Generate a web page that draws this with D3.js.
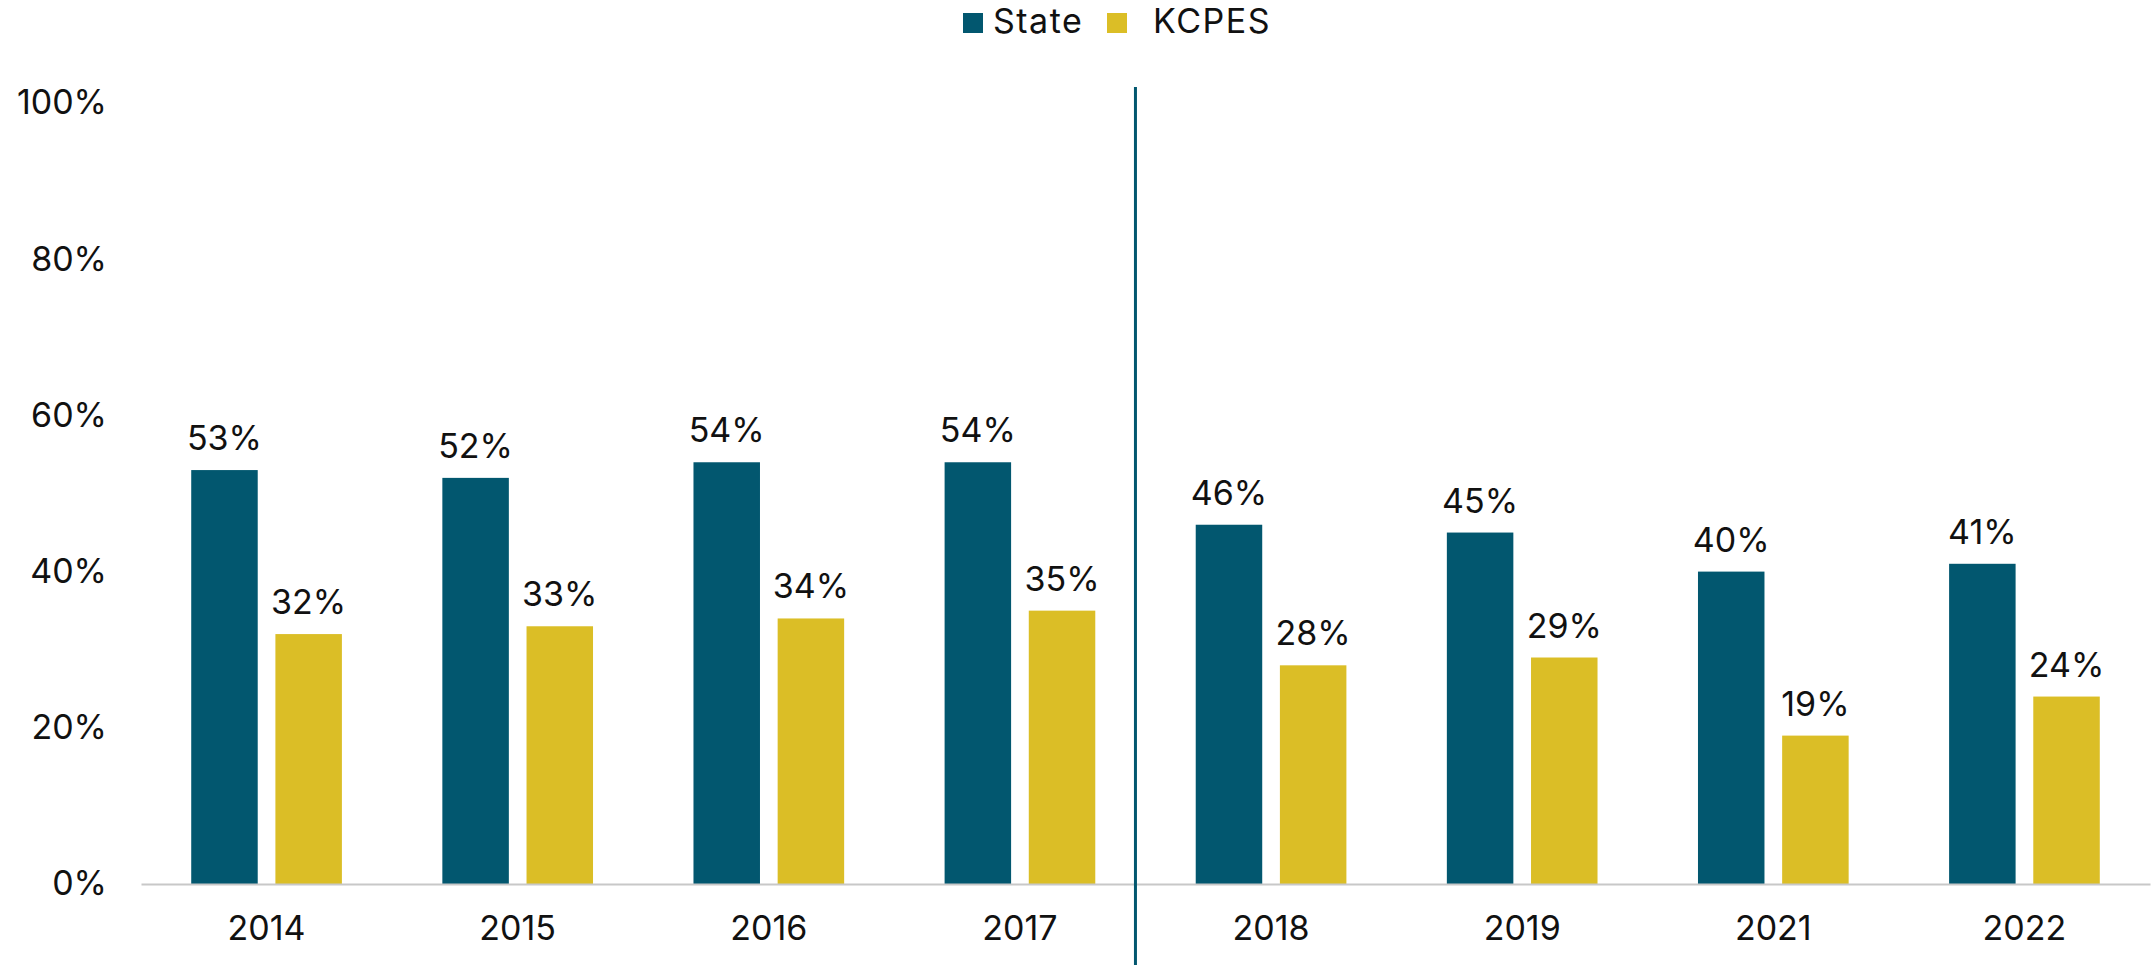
<!DOCTYPE html>
<html>
<head>
<meta charset="utf-8">
<script src="https://cdn.jsdelivr.net/npm/d3@7"></script>
<style>
  html, body { margin: 0; padding: 0; background: #fff; }
  svg { display: block; font-family: Inter, "Noto Sans", sans-serif; }
</style>
</head>
<body>
<svg id="chart" width="2156" height="965"></svg>
<script>
const categories = ["2014", "2015", "2016", "2017", "2018", "2019", "2021", "2022"];
const seriesNames = ["State", "KCPES"];
const stateValues = [53, 52, 54, 54, 46, 45, 40, 41];
const kcpesValues = [32, 33, 34, 35, 28, 29, 19, 24];
const yTicks = [0, 20, 40, 60, 80, 100];
const dividerBefore = "2018";

const colors = { State: "#02576F", KCPES: "#DBBE26" };
const FS = 34;

const svg = d3.select("#chart");
const W = 2156, H = 965;
const m = { left: 141, right: 6, top: 103, bottom: 81 };

const x = d3.scaleBand().domain(categories).range([m.left, W - m.right]).padding(0);
const xi = d3.scaleBand().domain(seriesNames).range([x.bandwidth() * 0.2, x.bandwidth() * 0.8]).paddingInner(0.21);
const y = d3.scaleLinear().domain([0, 100]).range([H - m.bottom, m.top]);

// Y axis labels
const yAxis = d3.axisLeft(y).tickValues(yTicks).tickFormat(d => d + "%").tickSize(0).tickPadding(34);
const yg = svg.append("g").attr("transform", `translate(${m.left},0)`).call(yAxis);
yg.select(".domain").remove();
yg.selectAll("text").attr("font-size", FS).attr("fill", "#111").attr("font-family", "Inter, 'Noto Sans', sans-serif");

// Bars
const data = categories.map((c, i) => ({ cat: c, State: stateValues[i], KCPES: kcpesValues[i] }));
const groups = svg.append("g").selectAll("g").data(data).join("g")
  .attr("transform", d => `translate(${x(d.cat)},0)`);

groups.selectAll("rect").data(d => seriesNames.map(s => ({ s, v: d[s] }))).join("rect")
  .attr("x", d => xi(d.s))
  .attr("width", xi.bandwidth())
  .attr("y", d => y(d.v))
  .attr("height", d => y(0) - y(d.v))
  .attr("fill", d => colors[d.s]);

groups.selectAll("text.lbl").data(d => seriesNames.map(s => ({ s, v: d[s] }))).join("text")
  .attr("class", "lbl")
  .attr("x", d => xi(d.s) + xi.bandwidth() / 2)
  .attr("y", d => y(d.v) - 20)
  .attr("text-anchor", "middle")
  .attr("font-size", FS)
  .attr("fill", "#111")
  .text(d => d.v + "%");

// X axis
const xAxis = d3.axisBottom(x).tickSize(0).tickPadding(32);
const xg = svg.append("g").attr("transform", `translate(0,${y(0)})`).call(xAxis);
xg.select(".domain").attr("stroke", "#c8c8c8").attr("stroke-width", 2);
xg.selectAll("text").attr("font-size", FS).attr("fill", "#111").attr("font-family", "Inter, 'Noto Sans', sans-serif");

// Divider line
const divX = x(dividerBefore) - x.step() * 0.04;
svg.append("line")
  .attr("x1", divX).attr("x2", divX)
  .attr("y1", y(100) - 16).attr("y2", H)
  .attr("stroke", colors.State).attr("stroke-width", 3);

// Legend
const legend = svg.append("g").attr("transform", "translate(963,13)");
const legItems = [
  { name: "State", dx: 0, tx: 30 },
  { name: "KCPES", dx: 144, tx: 46 }
];
legItems.forEach(it => {
  legend.append("rect").attr("x", it.dx).attr("y", 0).attr("width", 20).attr("height", 20).attr("fill", colors[it.name]);
  legend.append("text").attr("x", it.dx + it.tx).attr("y", 20).attr("font-size", FS)
    .attr("letter-spacing", 1.5).attr("fill", "#111").text(it.name);
});
</script>
</body>
</html>
